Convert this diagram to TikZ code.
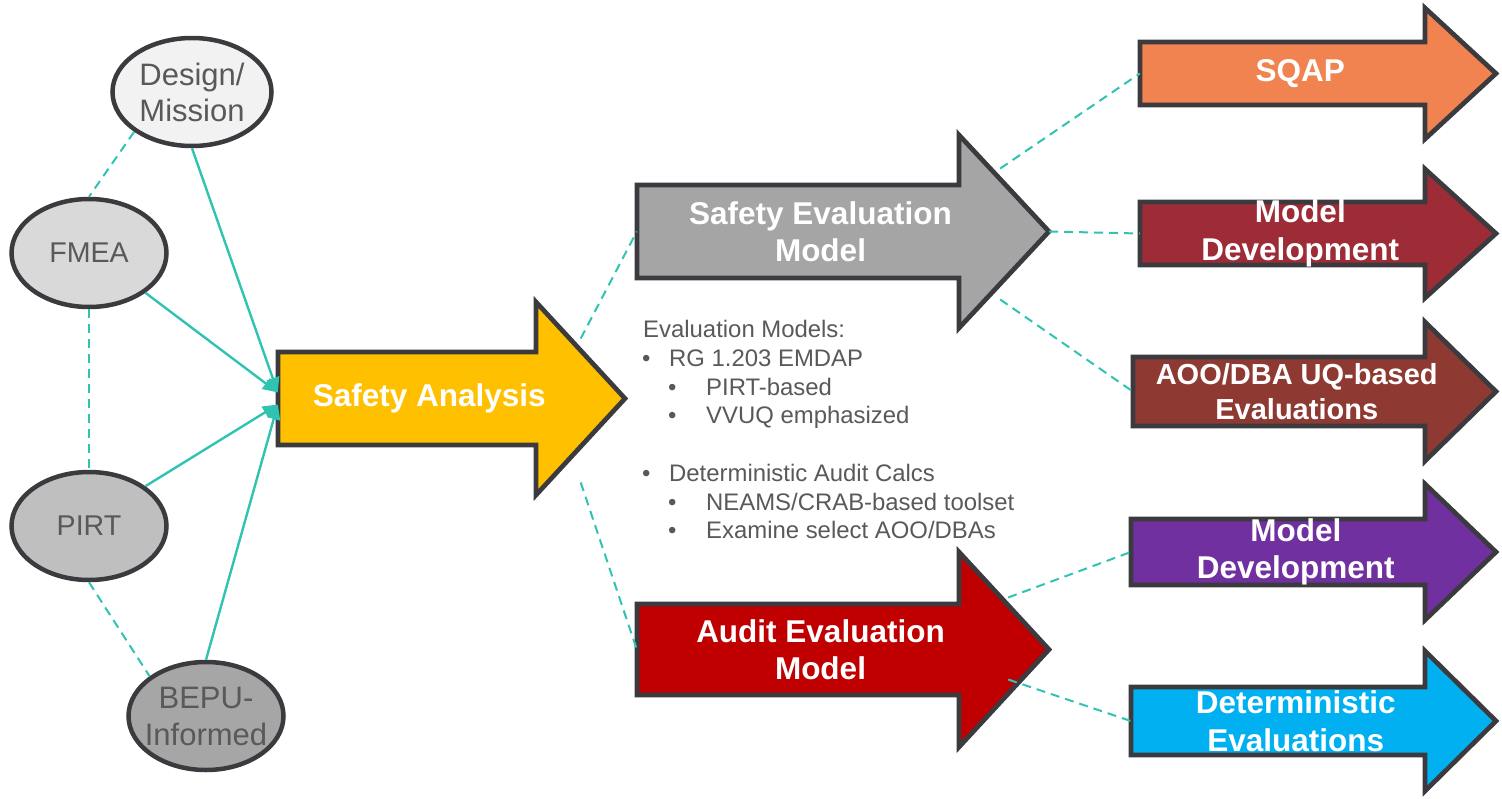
\documentclass[tikz,border=0pt]{standalone}
\usepackage{fontspec}
\setmainfont{Liberation Sans}
\usetikzlibrary{shapes.geometric,arrows.meta}

\definecolor{edgegray}{HTML}{3B3B3F}
\definecolor{textgray}{HTML}{595959}
\definecolor{linkteal}{HTML}{30C3B2}
\definecolor{ovalA}{HTML}{F2F2F2}
\definecolor{ovalB}{HTML}{D9D9D9}
\definecolor{ovalC}{HTML}{BFBFBF}
\definecolor{ovalD}{HTML}{A6A6A6}
\definecolor{gold}{HTML}{FFC000}
\definecolor{evalgray}{HTML}{A5A5A5}
\definecolor{auditred}{HTML}{C00000}
\definecolor{sqaporange}{HTML}{F0834F}
\definecolor{devmaroon}{HTML}{9D2C37}
\definecolor{aoobrown}{HTML}{8E3A33}
\definecolor{devpurple}{HTML}{7030A0}
\definecolor{detblue}{HTML}{00B0F0}

\tikzset{
  oval/.style={ellipse, draw=edgegray, line width=4.5pt, minimum width=155pt,
    minimum height=108pt, text=textgray, align=center,
    font=\fontsize{28.6}{36}\selectfont},
  shaft/.style={draw=edgegray, line width=4.7pt, line join=miter},
  arrowtext/.style={text=white, align=center,
    font=\fontsize{31.5}{37.5}\selectfont\bfseries},
  link/.style={draw=linkteal, line width=2.4pt,
    -{Triangle[length=15pt,width=13pt,fill=linkteal]}},
  dashlink/.style={draw=linkteal, line width=2pt, dash pattern=on 9pt off 6pt},
  note/.style={text=textgray, anchor=base west,
    font=\fontsize{23.9}{28.7}\selectfont}
}

\begin{document}
\begin{tikzpicture}[x=1pt,y=1pt]
\tikzstyle{every node}+=[inner sep=0pt]
\useasboundingbox (0,0) rectangle (1502,-798);

% inputs
\node [oval, fill=ovalA, minimum width=159pt, font=\fontsize{31}{36}\selectfont] (design) at (192,-92) {Design/\\Mission};
\node [oval, fill=ovalB] (fmea) at (89,-253) {FMEA};
\node [oval, fill=ovalC] (pirt) at (89,-526) {PIRT};
\node [oval, fill=ovalD, font=\fontsize{31}{37}\selectfont] (bepu) at (206,-716) {BEPU-\\\makebox[100pt]{Informed}};

% safety analysis
\filldraw [shaft, fill=gold] (278,-352) -- (536,-352) -- (536,-302) -- (625,-398.5) -- (536,-495) -- (536,-445) -- (278,-445) -- cycle;
\node [arrowtext, minimum width=302.5pt, minimum height=93pt] (sa) at (429.25,-398.5) {Safety Analysis};

% evaluation models
\filldraw [shaft, fill=evalgray] (637,-185) -- (959,-185) -- (959,-135) -- (1049,-231.5) -- (959,-328) -- (959,-278) -- (637,-278) -- cycle;
\node [arrowtext, minimum width=367pt, minimum height=93pt] (sem) at (820.5,-231.5) {Safety Evaluation\\Model};
\filldraw [shaft, fill=auditred] (637,-604) -- (959,-604) -- (959,-552) -- (1049,-649.5) -- (959,-747) -- (959,-695) -- (637,-695) -- cycle;
\node [arrowtext, minimum width=367pt, minimum height=91pt] (aem) at (820.5,-649.5) {Audit Evaluation\\Model};

% outputs
\filldraw [shaft, fill=sqaporange] (1140,-42) -- (1425,-42) -- (1425,-8) -- (1496,-73.5) -- (1425,-139) -- (1425,-105) -- (1140,-105) -- cycle;
\node [arrowtext, minimum width=320.5pt, minimum height=63pt] (sqap) at (1300.25,-73.5) {SQAP};
\filldraw [shaft, fill=devmaroon] (1140,-202) -- (1425,-202) -- (1425,-169) -- (1496,-233.5) -- (1425,-298) -- (1425,-265) -- (1140,-265) -- cycle;
\node [arrowtext, minimum width=320.5pt, minimum height=63pt] (mddev) at (1300.25,-233.5) {Model\\Development};
\filldraw [shaft, fill=aoobrown] (1133,-357) -- (1425,-357) -- (1425,-322) -- (1496,-391.5) -- (1425,-461) -- (1425,-426) -- (1133,-426) -- cycle;
\node [arrowtext, minimum width=327.5pt, minimum height=69pt, font=\fontsize{29}{35}\selectfont\bfseries] (aoo) at (1296.75,-391.5) {AOO/DBA UQ-based\\Evaluations};
\filldraw [shaft, fill=devpurple] (1131,-519) -- (1425,-519) -- (1425,-484) -- (1496,-552) -- (1425,-620) -- (1425,-585) -- (1131,-585) -- cycle;
\node [arrowtext, minimum width=329.5pt, minimum height=66pt] (mdaudit) at (1295.75,-552) {Model\\Development};
\filldraw [shaft, fill=detblue] (1131,-687) -- (1425,-687) -- (1425,-651) -- (1496,-721) -- (1425,-791) -- (1425,-755) -- (1131,-755) -- cycle;
\node [arrowtext, minimum width=329.5pt, minimum height=68pt] (det) at (1295.75,-721) {Deterministic\\Evaluations};

% notes
\node [note] (evalhead) at (643,-337) {Evaluation Models:};
\node [note] (rg) at (642,-366) {\makebox[27pt][l]{•}RG 1.203 EMDAP};
\node [note] (pirtbased) at (668,-395) {\makebox[38pt][l]{•}PIRT-based};
\node [note] (vvuq) at (668,-423) {\makebox[38pt][l]{•}VVUQ emphasized};
\node [note] (auditcalc) at (642,-481) {\makebox[27pt][l]{•}Deterministic Audit Calcs};
\node [note] (neams) at (668,-510) {\makebox[38pt][l]{•}NEAMS/CRAB-based toolset};
\node [note] (examine) at (668,-538) {\makebox[38pt][l]{•}Examine select AOO/DBAs};

% links
\draw [dashlink] (design.south west) -- (fmea.north);
\draw [dashlink] (fmea.south) -- (pirt.north);
\draw [dashlink] (pirt.south) -- (bepu.north west);
\draw [link] (design.south) -- ([yshift=6pt]sa.west);
\draw [link] (fmea.south east) -- ([yshift=6pt]sa.west);
\draw [link] (pirt.north east) -- ([yshift=-6pt]sa.west);
\draw [link] (bepu.north) -- ([yshift=-6pt]sa.west);
\draw [dashlink] ([yshift=60pt]sa.east) -- (sem.west);
\draw [dashlink] ([yshift=-84pt]sa.east) -- (aem.west);
\draw [dashlink] ([xshift=-4pt,yshift=63pt]sem.east) -- (sqap.west);
\draw [dashlink] ([xshift=45pt]sem.east) -- (mddev.west);
\draw [dashlink] ([xshift=-4pt,yshift=-68pt]sem.east) -- (aoo.west);
\draw [dashlink] ([xshift=4pt,yshift=52pt]aem.east) -- (mdaudit.west);
\draw [dashlink] ([xshift=4pt,yshift=-30pt]aem.east) -- (det.west);
\end{tikzpicture}
\end{document}
